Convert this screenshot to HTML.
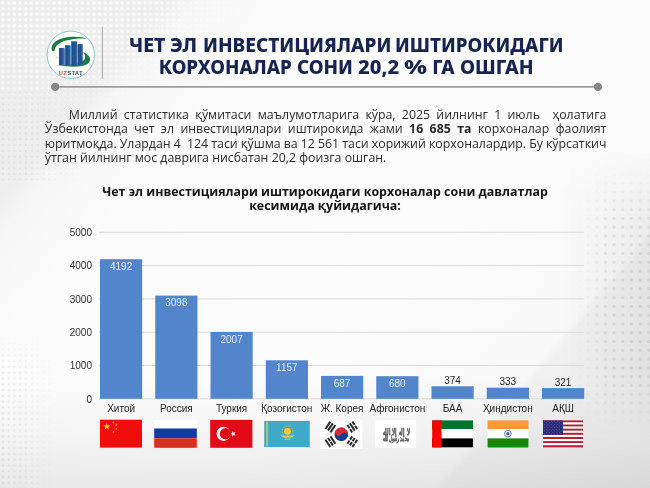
<!DOCTYPE html>
<html><head><meta charset="utf-8">
<style>
html,body{margin:0;padding:0}
body{width:650px;height:488px;position:relative;overflow:hidden;
background:linear-gradient(to top,rgba(0,0,0,0.075) 0px,rgba(0,0,0,0.035) 45px,rgba(0,0,0,0) 110px),
linear-gradient(130deg,#ebebeb 0%,#eeeeee 16%,#f6f6f6 18.5%,#fbfbfb 28%,#fcfcfc 60%,#f8f8f8 79.5%,#f1f1f1 80.5%,#e9e9e9 100%);
font-family:"Open Sans","Liberation Sans",sans-serif;}
.abs{position:absolute}
.tw{position:absolute;color:#16244f;font-weight:800;font-size:18.8px;line-height:23px;font-family:"Noto Sans","Open Sans","Liberation Sans",sans-serif;white-space:nowrap}
.para{left:44.8px;width:561.6px;top:107.7px;color:#2b2b2b;font-size:12.35px;line-height:14.6px;font-family:"Open Sans","Liberation Sans",sans-serif}
.para div{text-align:justify;text-align-last:justify;white-space:nowrap}
.para div.last{text-align-last:left}
.ctitle{left:60px;width:530px;top:184.8px;text-align:center;color:#141414;font-weight:700;font-size:12.42px;line-height:14.6px;font-family:"Open Sans","Liberation Sans",sans-serif}
svg text{font-family:"Liberation Sans",Arial,sans-serif}
</style></head><body>
<div class="abs" style="left:0;top:0;width:270px;height:125px;background-image:radial-gradient(circle,rgba(255,255,255,0.95) 1.0px,rgba(255,255,255,0.4) 1.7px,rgba(255,255,255,0) 2.3px);background-size:5.7px 5.7px;-webkit-mask-image:radial-gradient(ellipse 270px 125px at 0 0,#000 40%,transparent 100%);mask-image:radial-gradient(ellipse 270px 125px at 0 0,#000 40%,transparent 100%)"></div>
<div class="abs" style="left:0;top:90px;width:90px;height:90px;background-image:radial-gradient(circle,rgba(0,0,0,0.05) 0.9px,rgba(0,0,0,0) 1.4px);background-size:5.8px 5.8px;-webkit-mask-image:linear-gradient(to right,#000 30%,transparent);mask-image:linear-gradient(to right,#000 30%,transparent)"></div>
<div class="abs" style="left:0;top:335px;width:55px;height:153px;background-image:radial-gradient(circle,rgba(0,0,0,0.06) 1.0px,rgba(0,0,0,0) 1.6px);background-size:5.8px 5.8px;-webkit-mask-image:linear-gradient(to right,#000 25%,transparent),linear-gradient(to bottom,transparent,#000 20%);-webkit-mask-composite:source-in;mask-image:linear-gradient(to right,#000 25%,transparent),linear-gradient(to bottom,transparent,#000 20%);mask-composite:intersect"></div>
<div class="abs" style="left:560px;top:150px;width:90px;height:290px;background:linear-gradient(to right,rgba(0,0,0,0),rgba(0,0,0,0.05));-webkit-mask-image:linear-gradient(to bottom,transparent,#000 25%,#000 75%,transparent);mask-image:linear-gradient(to bottom,transparent,#000 25%,#000 75%,transparent)"></div>
<div class="abs" style="left:575px;top:170px;width:75px;height:260px;background-image:radial-gradient(circle,rgba(0,0,0,0.07) 1.3px,rgba(0,0,0,0) 2px);background-size:8.7px 8.8px;-webkit-mask-image:linear-gradient(to right,transparent,#000 50%),linear-gradient(to bottom,transparent,#000 20%,#000 80%,transparent);-webkit-mask-composite:source-in;mask-image:linear-gradient(to right,transparent,#000 50%),linear-gradient(to bottom,transparent,#000 20%,#000 80%,transparent);mask-composite:intersect"></div>
<svg class="abs" style="left:0;top:0" width="650" height="488" viewBox="0 0 650 488">
  <!-- header lines -->
  <line x1="102.4" y1="27" x2="102.4" y2="79" stroke="#b9b9b9" stroke-width="1.3"/>
  <line x1="55" y1="86.9" x2="598" y2="86.9" stroke="#9d9d9d" stroke-width="1.9"/>
  <circle cx="55.2" cy="86.9" r="4.2" fill="#878787"/>
  <circle cx="598" cy="86.9" r="4.2" fill="#878787"/>
  <!-- logo -->
  <g>
    <circle cx="70.8" cy="54.8" r="23.7" fill="#ffffff" stroke="#86bcbc" stroke-width="0.9"/>
    <path d="M51.8,50.6 C50.2,43.8 57,38.2 69,37 C77,36.4 83,37.2 86.4,38.6 C80,38.3 72,38.9 66,40.6 C59.5,42.6 55.2,45.6 54.8,50.2 C54.1,51.5 52.5,51.7 51.8,50.6 Z" fill="#1e7b3f"/>
    <path d="M83.2,52 C89.2,54.4 91.6,58.8 89.2,62.4 C86.2,66 78,67 69,66.6 L55.5,65.6 C66,65 76.5,64 82.2,61.4 C85.6,59.8 86.2,56 83.2,52 Z" fill="#1e7b3f"/>
    <g fill="#1c5190">
      <rect x="59" y="47.9" width="4.9" height="17.2"/>
      <rect x="65.1" y="45.2" width="5" height="19.9"/>
      <rect x="71.2" y="41.3" width="5.9" height="23.8"/>
      <rect x="77.8" y="44.1" width="4.9" height="21"/>
    </g>
    <g fill="#5b8fc8"><rect x="63.9" y="48.2" width="1.2" height="16.9"/><rect x="70.1" y="45.5" width="1.1" height="19.6"/><rect x="77.1" y="44.4" width="0.7" height="20.7"/></g>
    <g fill="#4d86c4" opacity="0.55">
      <rect x="62.6" y="48.4" width="0.8" height="16.6"/>
      <rect x="68.8" y="45.7" width="0.8" height="19.3"/>
      <rect x="75.6" y="41.8" width="0.9" height="23.2"/>
      <rect x="81.4" y="44.6" width="0.8" height="20.4"/>
    </g>
    <path d="M56,57.5 L63,56.8 L69,57.6 L76,55.2 L83,53.5" fill="none" stroke="#d8404a" stroke-width="0.5" stroke-dasharray="0.8 0.8" opacity="0.8"/>
    <text x="58.6" y="74.6" font-size="6.1" font-weight="700" letter-spacing="0.2" fill="#d13d3d" style="font-family:'Liberation Sans',sans-serif">UZ<tspan fill="#2f4e7c">STAT</tspan></text>
  </g>
  <!-- chart gridlines -->
  <g stroke="#d9d9d9" stroke-width="1">
    <line x1="99" y1="232.3" x2="584" y2="232.3"/>
    <line x1="99" y1="265.6" x2="584" y2="265.6"/>
    <line x1="99" y1="298.9" x2="584" y2="298.9"/>
    <line x1="99" y1="332.2" x2="584" y2="332.2"/>
    <line x1="99" y1="365.5" x2="584" y2="365.5"/>
    <line x1="99" y1="398.8" x2="584" y2="398.8"/>
  </g>
  <g font-size="10" fill="#333333" text-anchor="end">
    <text x="92" y="236">5000</text>
    <text x="92" y="269.3">4000</text>
    <text x="92" y="302.6">3000</text>
    <text x="92" y="335.9">2000</text>
    <text x="92" y="369.2">1000</text>
    <text x="92" y="402.5">0</text>
  </g>
  <g fill="#5285cb">
    <rect x="100" y="259.2" width="42.2" height="139.6"/>
    <rect x="155.25" y="295.6" width="42.2" height="103.2"/>
    <rect x="210.5" y="332" width="42.2" height="66.8"/>
    <rect x="265.75" y="360.3" width="42.2" height="38.5"/>
    <rect x="321" y="375.9" width="42.2" height="22.9"/>
    <rect x="376.25" y="376.2" width="42.2" height="22.6"/>
    <rect x="431.5" y="386.3" width="42.2" height="12.5"/>
    <rect x="486.75" y="387.7" width="42.2" height="11.1"/>
    <rect x="542" y="388.1" width="42.2" height="10.7"/>
  </g>
  <g font-size="10" text-anchor="middle" fill="#e6edf8">
    <text x="121.1" y="269.7">4192</text>
    <text x="176.35" y="306.1">3098</text>
    <text x="231.6" y="342.5">2007</text>
    <text x="286.85" y="370.8">1157</text>
    <text x="342.1" y="386.6">687</text>
    <text x="397.35" y="386.7">680</text>
  </g>
  <g font-size="10" text-anchor="middle" fill="#262626">
    <text x="452.6" y="384">374</text>
    <text x="507.85" y="385.4">333</text>
    <text x="563.1" y="385.8">321</text>
  </g>
  <g font-size="10" text-anchor="middle" fill="#1e1e1e">
    <text x="121.1" y="411.5">Хитой</text>
    <text x="176.35" y="411.5">Россия</text>
    <text x="231.6" y="411.5">Туркия</text>
    <text x="286.85" y="411.5">Қозоғистон</text>
    <text x="342.1" y="411.5">Ж. Корея</text>
    <text x="397.35" y="411.5">Афғонистон</text>
    <text x="452.6" y="411.5">БАА</text>
    <text x="507.85" y="411.5">Ҳиндистон</text>
    <text x="563.1" y="411.5">АҚШ</text>
  </g>
  <!-- flags -->
  <g id="flags">
<rect x="100" y="419.7" width="42" height="27.9" fill="#f20d0d"/>
<polygon points="106.80,422.90 107.63,425.46 110.32,425.46 108.14,427.04 108.97,429.59 106.80,428.01 104.63,429.59 105.46,427.04 103.28,425.46 105.97,425.46" fill="#ffde00"/>
<polygon points="114.03,421.32 113.84,422.21 114.62,422.66 113.72,422.75 113.53,423.64 113.16,422.81 112.26,422.91 112.93,422.30 112.56,421.47 113.35,421.93" fill="#ffde00"/>
<polygon points="116.42,423.77 116.54,424.67 117.44,424.83 116.62,425.22 116.75,426.12 116.12,425.47 115.30,425.87 115.73,425.07 115.10,424.41 115.99,424.57" fill="#ffde00"/>
<polygon points="115.98,427.77 116.41,428.57 117.30,428.41 116.67,429.07 117.10,429.87 116.28,429.47 115.65,430.12 115.78,429.22 114.96,428.83 115.86,428.67" fill="#ffde00"/>
<polygon points="112.78,430.82 113.45,431.43 114.24,430.97 113.87,431.80 114.54,432.41 113.64,432.31 113.27,433.14 113.08,432.25 112.18,432.16 112.96,431.71" fill="#ffde00"/>
<rect x="154.2" y="419.7" width="42.6" height="8.8" fill="#ffffff"/>
<rect x="154.2" y="428.5" width="42.6" height="9.8" fill="#0c3aa8"/>
<rect x="154.2" y="438.3" width="42.6" height="9.5" fill="#d7301f"/>
<rect x="210.2" y="419.9" width="42.2" height="27.9" fill="#e30a17"/>
<circle cx="223.6" cy="433.8" r="7.1" fill="#ffffff"/>
<circle cx="225.5" cy="433.8" r="5.7" fill="#e30a17"/>
<polygon points="230.20,433.80 232.27,433.13 232.27,430.95 233.55,432.71 235.63,432.04 234.35,433.80 235.63,435.56 233.55,434.89 232.27,436.65 232.27,434.47" fill="#ffffff"/>
<rect x="264.2" y="420.9" width="45.5" height="26.1" fill="#40a9c9"/>
<rect x="266" y="421.6" width="2.2" height="24.6" fill="#b9c77a" opacity="0.8"/>
<circle cx="287.5" cy="431.3" r="3.4" fill="#f5d21f"/>
<circle cx="287.5" cy="431.3" r="5.2" fill="none" stroke="#e8d24a" stroke-width="0.8" stroke-dasharray="0.8 0.8" opacity="0.8"/>
<path d="M280,434.5 C282,437.5 285,438.5 287.5,437.2 C290,438.5 293,437.5 295,434.5 C292.5,436 290,436 287.5,435.2 C285,436 282.5,436 280,434.5 Z" fill="#e3cf55" opacity="0.9"/>
<path d="M284.5,439.2 L290.5,439.2" stroke="#dccb58" stroke-width="0.9"/>
<rect x="320.1" y="419.8" width="42.3" height="29.2" fill="#ffffff"/>
<g transform="translate(341.3,434.3) rotate(33.7)"><circle r="6.8" fill="#0b3d91"/><path d="M-6.8,0 A6.8,6.8 0 0 1 6.8,0 A3.4,3.4 0 0 0 0,0 A3.4,3.4 0 0 1 -6.8,0 Z" fill="#cd2e3a"/></g>
<g transform="translate(330.4,427.0) rotate(-56.3)" fill="#2b2b2b"><rect x="-4.4" y="-4.0" width="8.8" height="2"/><rect x="-4.4" y="-1.0" width="8.8" height="2"/><rect x="-4.4" y="2.0" width="8.8" height="2"/></g>
<g transform="translate(352.3,427.0) rotate(56.3)" fill="#2b2b2b"><rect x="-4.4" y="-4.0" width="3.9" height="2"/><rect x="0.5" y="-4.0" width="3.9" height="2"/><rect x="-4.4" y="-1.0" width="8.8" height="2"/><rect x="-4.4" y="2.0" width="3.9" height="2"/><rect x="0.5" y="2.0" width="3.9" height="2"/></g>
<g transform="translate(330.4,441.7) rotate(56.3)" fill="#2b2b2b"><rect x="-4.4" y="-4.0" width="8.8" height="2"/><rect x="-4.4" y="-1.0" width="3.9" height="2"/><rect x="0.5" y="-1.0" width="3.9" height="2"/><rect x="-4.4" y="2.0" width="8.8" height="2"/></g>
<g transform="translate(352.3,441.7) rotate(-56.3)" fill="#2b2b2b"><rect x="-4.4" y="-4.0" width="3.9" height="2"/><rect x="0.5" y="-4.0" width="3.9" height="2"/><rect x="-4.4" y="-1.0" width="3.9" height="2"/><rect x="0.5" y="-1.0" width="3.9" height="2"/><rect x="-4.4" y="2.0" width="3.9" height="2"/><rect x="0.5" y="2.0" width="3.9" height="2"/></g>
<rect x="375.5" y="420.2" width="40.6" height="27.7" fill="#ffffff"/>
<g style="font-family:'Reem Kufi','Noto Sans Arabic','DejaVu Sans',sans-serif" font-weight="700" fill="#444444" stroke="#555555" stroke-width="0.3" text-anchor="middle" opacity="0.9"><text x="396" y="435" font-size="9" textLength="27" lengthAdjust="spacingAndGlyphs">لا إله إلا الله</text><text x="396" y="440.6" font-size="8" textLength="26" lengthAdjust="spacingAndGlyphs">محمد رسول الله</text></g>
<rect x="432.2" y="420.4" width="40.9" height="8.7" fill="#00732f"/>
<rect x="432.2" y="429.1" width="40.9" height="9.3" fill="#ffffff"/>
<rect x="432.2" y="438.4" width="40.9" height="8.9" fill="#000000"/>
<rect x="432.2" y="420.4" width="9.3" height="26.9" fill="#ff0000"/>
<rect x="487.6" y="420.4" width="40.8" height="8.7" fill="#ff9933"/>
<rect x="487.6" y="429.1" width="40.8" height="9.3" fill="#ffffff"/>
<rect x="487.6" y="438.4" width="40.8" height="9.1" fill="#138808"/>
<circle cx="507.9" cy="433.7" r="3.3" fill="none" stroke="#1c2a80" stroke-width="0.7"/>
<circle cx="507.9" cy="433.7" r="1.6" fill="#4a52a0"/>
<g><rect x="543" y="420.40" width="40" height="2.12" fill="#b22234"/><rect x="543" y="422.47" width="40" height="2.12" fill="#ffffff"/><rect x="543" y="424.54" width="40" height="2.12" fill="#b22234"/><rect x="543" y="426.61" width="40" height="2.12" fill="#ffffff"/><rect x="543" y="428.68" width="40" height="2.12" fill="#b22234"/><rect x="543" y="430.75" width="40" height="2.12" fill="#ffffff"/><rect x="543" y="432.82" width="40" height="2.12" fill="#b22234"/><rect x="543" y="434.88" width="40" height="2.12" fill="#ffffff"/><rect x="543" y="436.95" width="40" height="2.12" fill="#b22234"/><rect x="543" y="439.02" width="40" height="2.12" fill="#ffffff"/><rect x="543" y="441.09" width="40" height="2.12" fill="#b22234"/><rect x="543" y="443.16" width="40" height="2.12" fill="#ffffff"/><rect x="543" y="445.23" width="40" height="2.12" fill="#b22234"/></g>
<rect x="543" y="420.4" width="19.9" height="14.5" fill="#2e2a78"/>
<g fill="#ffffff" opacity="0.45"><circle cx="544.66" cy="421.20" r="0.42"/><circle cx="547.96" cy="421.20" r="0.42"/><circle cx="551.26" cy="421.20" r="0.42"/><circle cx="554.56" cy="421.20" r="0.42"/><circle cx="557.86" cy="421.20" r="0.42"/><circle cx="561.16" cy="421.20" r="0.42"/><circle cx="546.31" cy="422.80" r="0.42"/><circle cx="549.61" cy="422.80" r="0.42"/><circle cx="552.91" cy="422.80" r="0.42"/><circle cx="556.21" cy="422.80" r="0.42"/><circle cx="559.51" cy="422.80" r="0.42"/><circle cx="544.66" cy="424.40" r="0.42"/><circle cx="547.96" cy="424.40" r="0.42"/><circle cx="551.26" cy="424.40" r="0.42"/><circle cx="554.56" cy="424.40" r="0.42"/><circle cx="557.86" cy="424.40" r="0.42"/><circle cx="561.16" cy="424.40" r="0.42"/><circle cx="546.31" cy="426.00" r="0.42"/><circle cx="549.61" cy="426.00" r="0.42"/><circle cx="552.91" cy="426.00" r="0.42"/><circle cx="556.21" cy="426.00" r="0.42"/><circle cx="559.51" cy="426.00" r="0.42"/><circle cx="544.66" cy="427.60" r="0.42"/><circle cx="547.96" cy="427.60" r="0.42"/><circle cx="551.26" cy="427.60" r="0.42"/><circle cx="554.56" cy="427.60" r="0.42"/><circle cx="557.86" cy="427.60" r="0.42"/><circle cx="561.16" cy="427.60" r="0.42"/><circle cx="546.31" cy="429.20" r="0.42"/><circle cx="549.61" cy="429.20" r="0.42"/><circle cx="552.91" cy="429.20" r="0.42"/><circle cx="556.21" cy="429.20" r="0.42"/><circle cx="559.51" cy="429.20" r="0.42"/><circle cx="544.66" cy="430.80" r="0.42"/><circle cx="547.96" cy="430.80" r="0.42"/><circle cx="551.26" cy="430.80" r="0.42"/><circle cx="554.56" cy="430.80" r="0.42"/><circle cx="557.86" cy="430.80" r="0.42"/><circle cx="561.16" cy="430.80" r="0.42"/><circle cx="546.31" cy="432.40" r="0.42"/><circle cx="549.61" cy="432.40" r="0.42"/><circle cx="552.91" cy="432.40" r="0.42"/><circle cx="556.21" cy="432.40" r="0.42"/><circle cx="559.51" cy="432.40" r="0.42"/><circle cx="544.66" cy="434.00" r="0.42"/><circle cx="547.96" cy="434.00" r="0.42"/><circle cx="551.26" cy="434.00" r="0.42"/><circle cx="554.56" cy="434.00" r="0.42"/><circle cx="557.86" cy="434.00" r="0.42"/><circle cx="561.16" cy="434.00" r="0.42"/></g>
</g>
</svg>
<span class="tw" style="left:128.7px;top:33.5px;transform:scaleX(1.03);transform-origin:0 0">ЧЕТ</span><span class="tw" style="left:170.2px;top:33.5px;transform:scaleX(1.04);transform-origin:0 0">ЭЛ</span><span class="tw" style="left:202.8px;top:33.5px;transform:scaleX(1.012);transform-origin:0 0">ИНВЕСТИЦИЯЛАРИ</span><span class="tw" style="left:395.0px;top:33.5px">ИШТИРОКИДАГИ</span><span class="tw" style="left:158.8px;top:55.9px;transform:scaleX(1.0);transform-origin:0 0">КОРХОНАЛАР</span><span class="tw" style="left:296.6px;top:55.9px;transform:scaleX(1.005);transform-origin:0 0">СОНИ</span><span class="tw" style="left:358.2px;top:55.9px;transform:scaleX(1.08);transform-origin:0 0">20,2</span><span class="tw" style="left:404.2px;top:55.9px;transform:scaleX(1.33);transform-origin:0 0">%</span><span class="tw" style="left:432.2px;top:55.9px">ГА</span><span class="tw" style="left:460.2px;top:55.9px;transform:scaleX(1.025);transform-origin:0 0">ОШГАН</span>
<div class="abs para">
<div style="padding-left:24px">Миллий статистика қўмитаси маълумотларига кўра, 2025 йилнинг 1 июль&nbsp; ҳолатига</div>
<div>Ўзбекистонда чет эл инвестициялари иштирокида жами <b>16 685 та</b> корхоналар фаолият</div>
<div style="word-spacing:-0.6px">юритмоқда. Улардан 4&nbsp; 124 таси қўшма ва 12 561 таси хорижий корхоналардир. Бу кўрсаткич</div>
<div class="last">ўтган йилнинг мос даврига нисбатан 20,2 фоизга ошган.</div>
</div>
<div class="abs ctitle">Чет эл инвестициялари иштирокидаги корхоналар сони давлатлар<br>кесимида қуйидагича:</div>
</body></html>
